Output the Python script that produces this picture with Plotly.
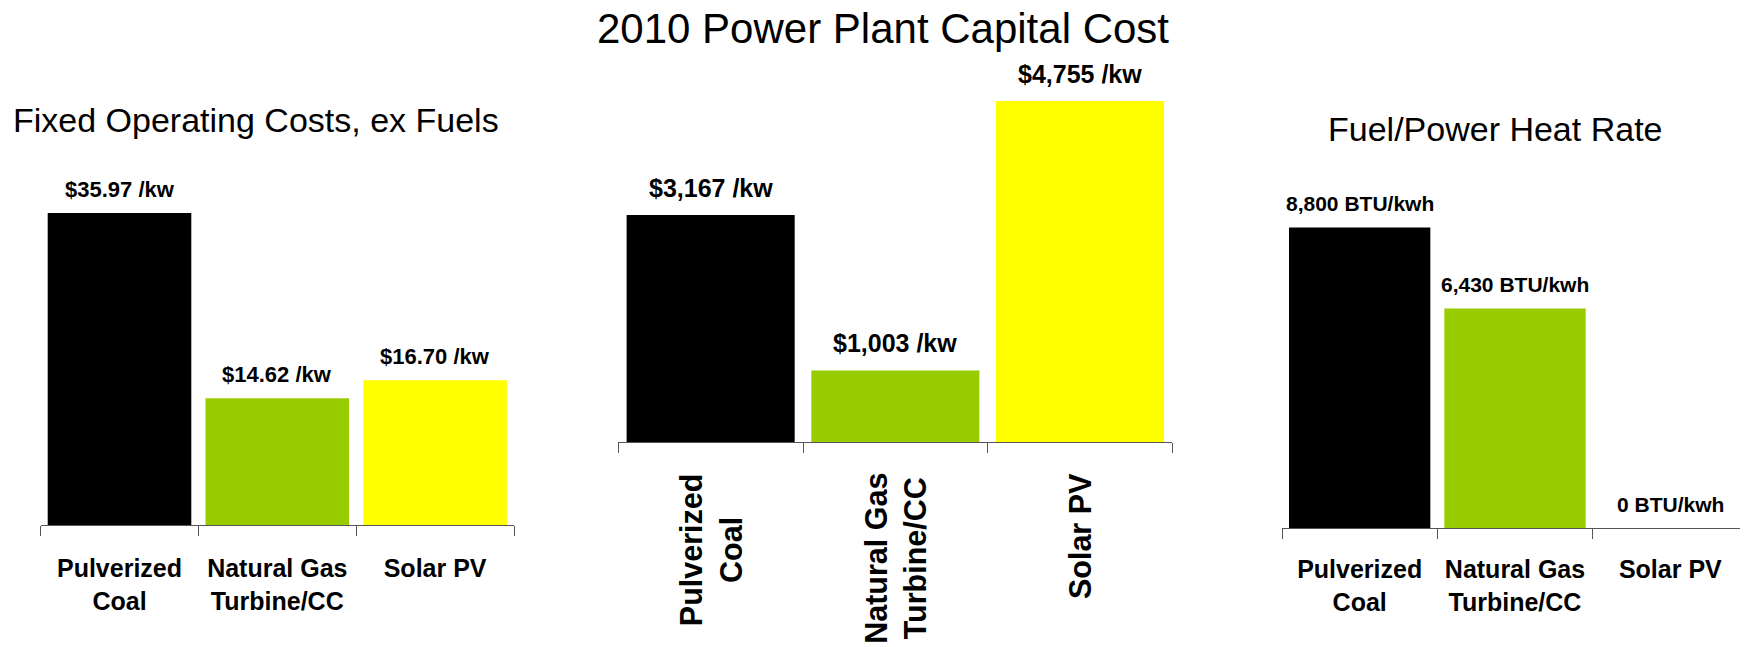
import plotly.graph_objects as go

# The page body has an 8px default margin, so the figure is drawn 8px in from
# the top-left corner of the window; pixel positions below are window pixels.
OFF = 8
W, H = 1748 - OFF, 647 - OFF

categories_h = ["Pulverized<br>Coal", "Natural Gas<br>Turbine/CC", "Solar PV"]
colors = ["#000000", "#99CC00", "#FFFF00"]

fixed_costs = [35.97, 14.62, 16.70]
fixed_labels = ["$35.97 /kw", "$14.62 /kw", "$16.70 /kw"]

capital_costs = [3167, 1003, 4755]
capital_labels = ["$3,167 /kw", "$1,003 /kw", "$4,755 /kw"]

heat_rates = [8800, 6430, 0]
heat_labels = ["8,800 BTU/kwh", "6,430 BTU/kwh", "0 BTU/kwh"]

FONT = "Liberation Sans, Arial, Helvetica, sans-serif"

def fx(p):
    return (p - OFF) / W

def fy(p):
    return 1 - (p - OFF) / H

def px_x(a, b):
    return [max(0, fx(a)), min(1, fx(b))]

def px_y(top, bottom):
    return [fy(bottom), fy(top)]

fig = go.Figure()

panels = [
    ("x", "y", fixed_costs),
    ("x2", "y2", capital_costs),
    ("x3", "y3", heat_rates),
]
for xa, ya, vals in panels:
    fig.add_trace(go.Bar(x=categories_h, y=vals, marker=dict(color=colors, line=dict(width=0)),
                         xaxis=xa, yaxis=ya, showlegend=False, hoverinfo="skip"))

left_top, left_bot = 150, 525
mid_top, mid_bot = 80, 442.4
right_top, right_bot = 150, 528.3

left_scale = (525 - 213) / 35.97
mid_scale = 0.0718
right_scale = (528.3 - 227.4) / 8800

def xaxis_style(**kw):
    d = dict(type="category", showline=True, linecolor="#555555", linewidth=1,
             ticks="outside", ticklen=10, tickcolor="#555555", tickwidth=1,
             tickson="boundaries", showgrid=False, zeroline=False, automargin=False,
             tickfont=dict(family=FONT, size=25, color="black", weight="bold"))
    d.update(kw)
    return d

common_y = dict(visible=False, showgrid=False, zeroline=False, automargin=False)

fig.update_layout(
    width=W, height=H,
    margin=dict(l=0, r=0, t=0, b=0, autoexpand=False),
    paper_bgcolor="white", plot_bgcolor="white",
    bargap=0.09,
    xaxis=xaxis_style(domain=px_x(40.6, 514), anchor="y", ticklabelstandoff=21),
    yaxis=dict(domain=px_y(left_top, left_bot), range=[0, (left_bot - left_top) / left_scale], anchor="x", **common_y),
    xaxis2=xaxis_style(domain=px_x(618.3, 1172.4), anchor="y2", showticklabels=False),
    yaxis2=dict(domain=px_y(mid_top, mid_bot), range=[0, (mid_bot - mid_top) / mid_scale], anchor="x2", **common_y),
    xaxis3=xaxis_style(domain=px_x(1282, 1748), anchor="y3", ticklabelstandoff=19),
    yaxis3=dict(domain=px_y(right_top, right_bot), range=[0, (right_bot - right_top) / right_scale], anchor="x3", **common_y),
)

annotations = []
label_specs = [
    ("x", "y", fixed_costs, fixed_labels, 22, 24),
    ("x2", "y2", capital_costs, capital_labels, 25, 27),
    ("x3", "y3", heat_rates, heat_labels, 21, 24),
]
for xa, ya, vals, labs, fs, shift in label_specs:
    for c, v, t in zip(categories_h, vals, labs):
        annotations.append(dict(x=c, y=v, xref=xa, yref=ya, text=t, showarrow=False,
                                yanchor="middle", xanchor="center", yshift=shift,
                                font=dict(family=FONT, size=fs, color="black", weight="bold")))

# rotated category labels of the middle panel (centred lines, like the original)
for c in categories_h:
    annotations.append(dict(x=c, xref="x2", y=fy(471), yref="paper", text=c, showarrow=False,
                            textangle=-90, xanchor="center", yanchor="top", align="center",
                            font=dict(family=FONT, size=30.5, color="black", weight="bold")))

# titles
annotations.append(dict(text="2010 Power Plant Capital Cost", x=fx(883), y=fy(28), xref="paper", yref="paper",
                        showarrow=False, xanchor="center", yanchor="middle",
                        font=dict(family=FONT, size=42, color="black")))
annotations.append(dict(text="Fixed Operating Costs, ex Fuels", x=fx(255.5), y=fy(120), xref="paper", yref="paper",
                        showarrow=False, xanchor="center", yanchor="middle",
                        font=dict(family=FONT, size=34, color="black")))
annotations.append(dict(text="Fuel/Power Heat Rate", x=fx(1495.8), y=fy(129), xref="paper", yref="paper",
                        showarrow=False, xanchor="center", yanchor="middle",
                        font=dict(family=FONT, size=34, color="black")))

fig.update_layout(annotations=annotations)
fig.write_html("out.html")
